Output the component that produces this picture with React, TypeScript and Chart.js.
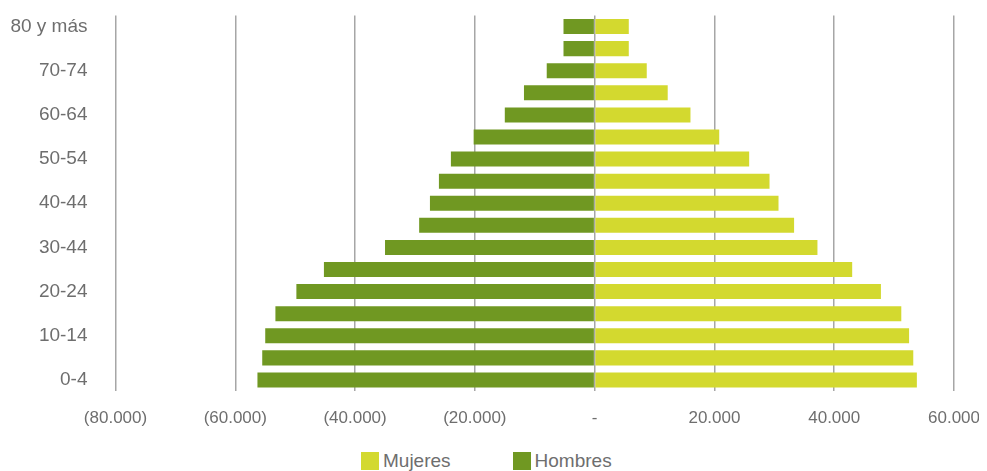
import React, { useEffect, useRef } from "react";
import { Chart, registerables } from "chart.js";

Chart.register(...registerables);

const categories = [
  "80 y más", "75-79", "70-74", "65-69", "60-64", "55-59", "50-54", "45-49",
  "40-44", "35-39", "30-44", "25-29", "20-24", "15-19", "10-14", "5-9", "0-4",
];
const shownLabels = ["80 y más", "70-74", "60-64", "50-54", "40-44", "30-44", "20-24", "10-14", "0-4"];

const mujeres = [
  5700, 5700, 8700, 12200, 16000, 20800, 25800, 29200, 30700, 33300, 37200,
  43000, 47800, 51200, 52500, 53200, 53800,
];
const hombres = [
  -5200, -5200, -8000, -11800, -15000, -20200, -24000, -26000, -27500, -29300,
  -35000, -45200, -49800, -53300, -55000, -55500, -56300,
];

const colorMujeres = "#d3d92f";
const colorHombres = "#709822";
const FONT = "'Liberation Sans', Arial, sans-serif";
const FONT_SIZE = 19;
const X_FONT_SIZE = 17;
const textColor = "#6e6e6e";

function fmt(v: number): string {
  if (v === 0) return "-";
  const s = Math.abs(v).toLocaleString("de-DE");
  return v < 0 ? `(${s})` : s;
}

export default function App() {
  const ref = useRef<HTMLCanvasElement | null>(null);
  useEffect(() => {
    if (!ref.current) return;
    const chart = new Chart(ref.current, {
      type: "bar",
      data: {
        labels: categories,
        datasets: [
          { label: "Mujeres", data: mujeres, backgroundColor: colorMujeres, barPercentage: 0.68, categoryPercentage: 1 },
          { label: "Hombres", data: hombres, backgroundColor: colorHombres, barPercentage: 0.68, categoryPercentage: 1 },
        ],
      },
      options: {
        indexAxis: "y",
        animation: false,
        responsive: false,
        maintainAspectRatio: false,
        layout: { padding: { top: 7.5, right: 25, left: 0, bottom: 0 } },
        plugins: { legend: { display: false }, tooltip: { enabled: false } },
        scales: {
          x: {
            min: -80000,
            max: 60000,
            stacked: true,
            ticks: {
              stepSize: 20000,
              color: textColor,
              font: { family: FONT, size: X_FONT_SIZE },
              padding: 17,
              maxRotation: 0,
              autoSkip: false,
              callback: (v: any) => fmt(Number(v)),
            },
            grid: { color: "#a6a6a6", lineWidth: 1.5, drawTicks: false },
            border: { display: false },
            afterFit: (s: any) => {
              s.height = 40;
              s.paddingLeft = 0;
              s.paddingRight = 0;
            },
          },
          y: {
            stacked: true,
            ticks: {
              color: textColor,
              font: { family: FONT, size: FONT_SIZE },
              padding: 28,
              autoSkip: false,
              callback: function (this: any, v: any) {
                const l = categories[Number(v)];
                return shownLabels.includes(l) ? l : "";
              },
            },
            grid: { display: false, drawTicks: false },
            border: { display: false },
            afterFit: (s: any) => {
              s.width = 107.5;
              s.paddingTop = 0;
              s.paddingBottom = 0;
            },
          },
        },
      },
    });
    return () => chart.destroy();
  }, []);

  const item = (color: string, label: string, ml: number) => (
    <div style={{ display: "flex", alignItems: "center", marginLeft: ml }}>
      <div style={{ width: 18, height: 18, background: color }} />
      <span style={{ marginLeft: 4, fontFamily: FONT, fontSize: FONT_SIZE, color: textColor, lineHeight: "18px" }}>{label}</span>
    </div>
  );

  return (
    <div style={{ width: 971, height: 463, position: "relative" }}>
      <canvas ref={ref} width={971} height={423} style={{ display: "block" }} />
      <div style={{ position: "absolute", left: 353, top: 444, display: "flex" }}>
        {item(colorMujeres, "Mujeres", 0)}
        {item(colorHombres, "Hombres", 62)}
      </div>
    </div>
  );
}
